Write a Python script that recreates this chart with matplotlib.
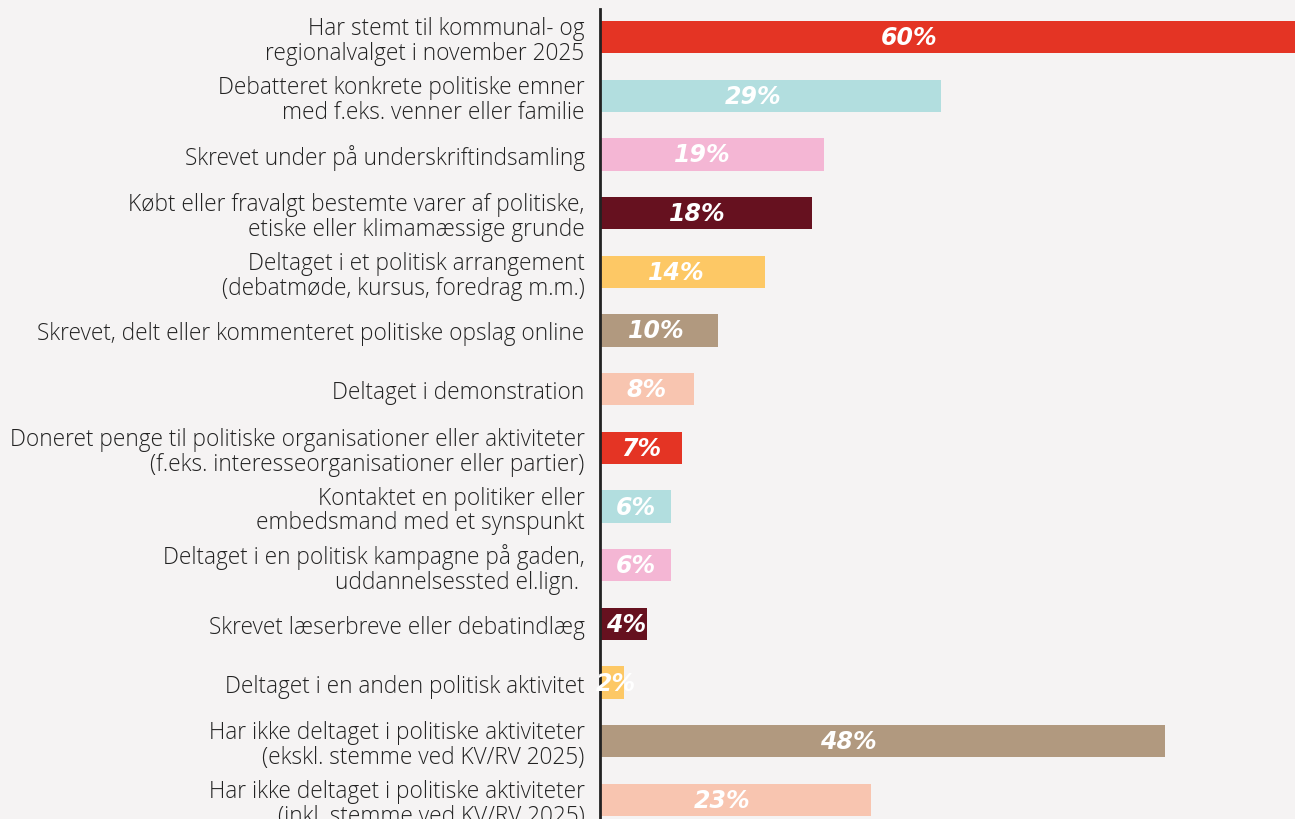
import matplotlib.pyplot as plt

# data
labels = [
    "Har stemt til kommunal- og\nregionalvalget i november 2025",
    "Debatteret konkrete politiske emner\nmed f.eks. venner eller familie",
    "Skrevet under på underskriftindsamling",
    "Købt eller fravalgt bestemte varer af politiske,\netiske eller klimamæssige grunde",
    "Deltaget i et politisk arrangement\n(debatmøde, kursus, foredrag m.m.)",
    "Skrevet, delt eller kommenteret politiske opslag online",
    "Deltaget i demonstration",
    "Doneret penge til politiske organisationer eller aktiviteter\n(f.eks. interesseorganisationer eller partier)",
    "Kontaktet en politiker eller\nembedsmand med et synspunkt",
    "Deltaget i en politisk kampagne på gaden,\nuddannelsessted el.lign. ",
    "Skrevet læserbreve eller debatindlæg",
    "Deltaget i en anden politisk aktivitet",
    "Har ikke deltaget i politiske aktiviteter\n(ekskl. stemme ved KV/RV 2025)",
    "Har ikke deltaget i politiske aktiviteter\n(inkl. stemme ved KV/RV 2025)",
]
values = [60, 29, 19, 18, 14, 10, 8, 7, 6, 6, 4, 2, 48, 23]

palette = ["#e43424", "#b2dedf", "#f4b6d4", "#66111f", "#fdc865", "#b1997f", "#f8c5b0"]
colors = [palette[i % len(palette)] for i in range(len(values))]

BG = "#f5f3f3"

fig = plt.figure(figsize=(12.95, 8.2), dpi=100, facecolor=BG)
ax = fig.add_axes([600 / 1295, 0, 695 / 1295, 1 - 10 / 820])
ax.set_facecolor(BG)

rows = list(range(len(values)))
ax.barh(rows, values, height=0.55, color=colors, zorder=2)

for r, v in zip(rows, values):
    ax.text(v * 0.43 + 0.5, r, "%d%%" % v, color="white", fontsize=17,
            fontweight="heavy", fontstyle="italic", ha="center", va="center",
            family="DejaVu Sans", zorder=3)

ax.set_xlim(0, 695 / 11.77)
ax.set_ylim(13 + 19 / 58.69, -28 / 58.69)

ax.set_yticks(rows)
ax.set_yticklabels(labels, fontsize=16.3, family="Open Sans", fontweight="light",
                   color="#222222", linespacing=1.05)
ax.tick_params(axis="y", length=0, pad=11)
ax.set_xticks([])

for s in ["top", "right", "bottom"]:
    ax.spines[s].set_visible(False)
ax.spines["left"].set_linewidth(2)
ax.spines["left"].set_color("#222222")

fig.savefig("out.png", dpi=100, facecolor=BG)
